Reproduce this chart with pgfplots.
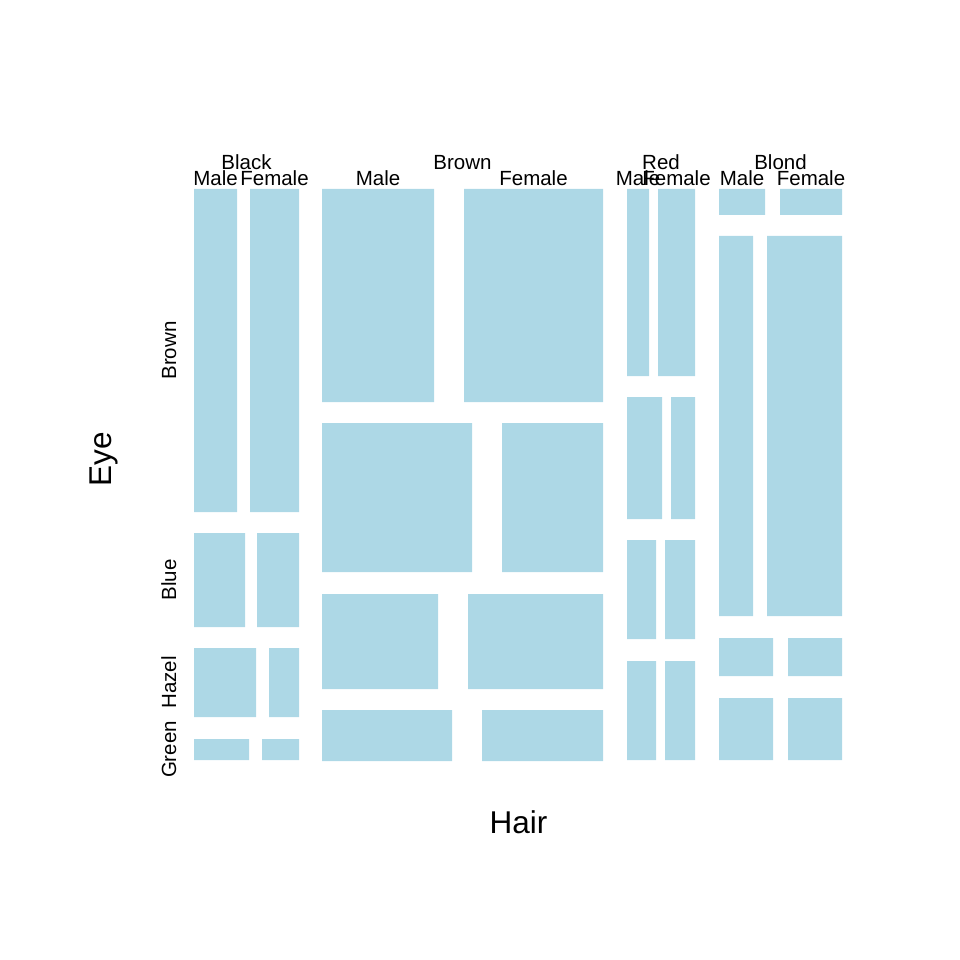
\documentclass[border=0pt]{standalone}
\usepackage{fontspec}
\setmainfont{Liberation Sans}
\usepackage{pgfplots}
\pgfplotsset{compat=1.18}
\definecolor{lightblue}{HTML}{ADD8E6}
\pgfplotsset{tile/.style={fill=lightblue, draw=none, mark=none, forget plot}}

\begin{document}
\begin{tikzpicture}[
    lab/.style={font=\fontsize{10.8}{13}\selectfont, anchor=base, inner sep=0pt},
    big/.style={font=\fontsize{16.6}{20}\selectfont, anchor=base, inner sep=0pt}
  ]
  \begin{axis}[
    scale only axis,
    width=505.89pt, height=505.89pt,
    xmin=0, xmax=960, ymin=0, ymax=960,
    y dir=reverse,
    hide axis,
    clip=false
  ]
    \path (axis cs:0,0) rectangle (axis cs:960,960);

    % ----- Hair = Black -----
    \addplot[tile] coordinates {(194,189) (237,189) (237,512) (194,512) (194,189)};
    \addplot[tile] coordinates {(250,189) (299,189) (299,512) (250,512) (250,189)};
    \addplot[tile] coordinates {(194,533) (245,533) (245,627) (194,627) (194,533)};
    \addplot[tile] coordinates {(257,533) (299,533) (299,627) (257,627) (257,533)};
    \addplot[tile] coordinates {(194,648) (256,648) (256,717) (194,717) (194,648)};
    \addplot[tile] coordinates {(269,648) (299,648) (299,717) (269,717) (269,648)};
    \addplot[tile] coordinates {(194,739) (249,739) (249,760) (194,760) (194,739)};
    \addplot[tile] coordinates {(262,739) (299,739) (299,760) (262,760) (262,739)};

    % ----- Hair = Brown -----
    \addplot[tile] coordinates {(322,189) (434,189) (434,402) (322,402) (322,189)};
    \addplot[tile] coordinates {(464,189) (603,189) (603,402) (464,402) (464,189)};
    \addplot[tile] coordinates {(322,423) (472,423) (472,572) (322,572) (322,423)};
    \addplot[tile] coordinates {(502,423) (603,423) (603,572) (502,572) (502,423)};
    \addplot[tile] coordinates {(322,594) (438,594) (438,689) (322,689) (322,594)};
    \addplot[tile] coordinates {(468,594) (603,594) (603,689) (468,689) (468,594)};
    \addplot[tile] coordinates {(322,710) (452,710) (452,761) (322,761) (322,710)};
    \addplot[tile] coordinates {(482,710) (603,710) (603,761) (482,761) (482,710)};

    % ----- Hair = Red -----
    \addplot[tile] coordinates {(627,189) (649,189) (649,376) (627,376) (627,189)};
    \addplot[tile] coordinates {(658,189) (695,189) (695,376) (658,376) (658,189)};
    \addplot[tile] coordinates {(627,397) (662,397) (662,519) (627,519) (627,397)};
    \addplot[tile] coordinates {(671,397) (695,397) (695,519) (671,519) (671,397)};
    \addplot[tile] coordinates {(627,540) (656,540) (656,639) (627,639) (627,540)};
    \addplot[tile] coordinates {(665,540) (695,540) (695,639) (665,639) (665,540)};
    \addplot[tile] coordinates {(627,661) (656,661) (656,760) (627,760) (627,661)};
    \addplot[tile] coordinates {(665,661) (695,661) (695,760) (665,760) (665,661)};

    % ----- Hair = Blond -----
    \addplot[tile] coordinates {(719,189) (765,189) (765,215) (719,215) (719,189)};
    \addplot[tile] coordinates {(780,189) (842,189) (842,215) (780,215) (780,189)};
    \addplot[tile] coordinates {(719,236) (753,236) (753,616) (719,616) (719,236)};
    \addplot[tile] coordinates {(767,236) (842,236) (842,616) (767,616) (767,236)};
    \addplot[tile] coordinates {(719,638) (773,638) (773,676) (719,676) (719,638)};
    \addplot[tile] coordinates {(788,638) (842,638) (842,676) (788,676) (788,638)};
    \addplot[tile] coordinates {(719,698) (773,698) (773,760) (719,760) (719,698)};
    \addplot[tile] coordinates {(788,698) (842,698) (842,760) (788,760) (788,698)};

    % ----- top labels -----
    \node[lab] at (axis cs:246.5,170) {Black};
    \node[lab] at (axis cs:462.5,170) {Brown};
    \node[lab] at (axis cs:661,170) {Red};
    \node[lab] at (axis cs:780.5,170) {Blond};

    \node[lab] at (axis cs:215.5,186) {Male};
    \node[lab] at (axis cs:274.5,186) {Female};
    \node[lab] at (axis cs:378,186) {Male};
    \node[lab] at (axis cs:533.5,186) {Female};
    \node[lab] at (axis cs:638,186) {Male};
    \node[lab] at (axis cs:676.5,186) {Female};
    \node[lab] at (axis cs:742,186) {Male};
    \node[lab] at (axis cs:811,186) {Female};

    % ----- left labels -----
    \node[lab, rotate=90] at (axis cs:176,350.5) {Brown};
    \node[lab, rotate=90] at (axis cs:176,580) {Blue};
    \node[lab, rotate=90] at (axis cs:176,682.5) {Hazel};
    \node[lab, rotate=90] at (axis cs:176,749.5) {Green};

    % ----- axis titles -----
    \node[big] at (axis cs:518.5,833) {Hair};
    \node[big, rotate=90] at (axis cs:111,459.5) {Eye};
  \end{axis}
\end{tikzpicture}
\end{document}
